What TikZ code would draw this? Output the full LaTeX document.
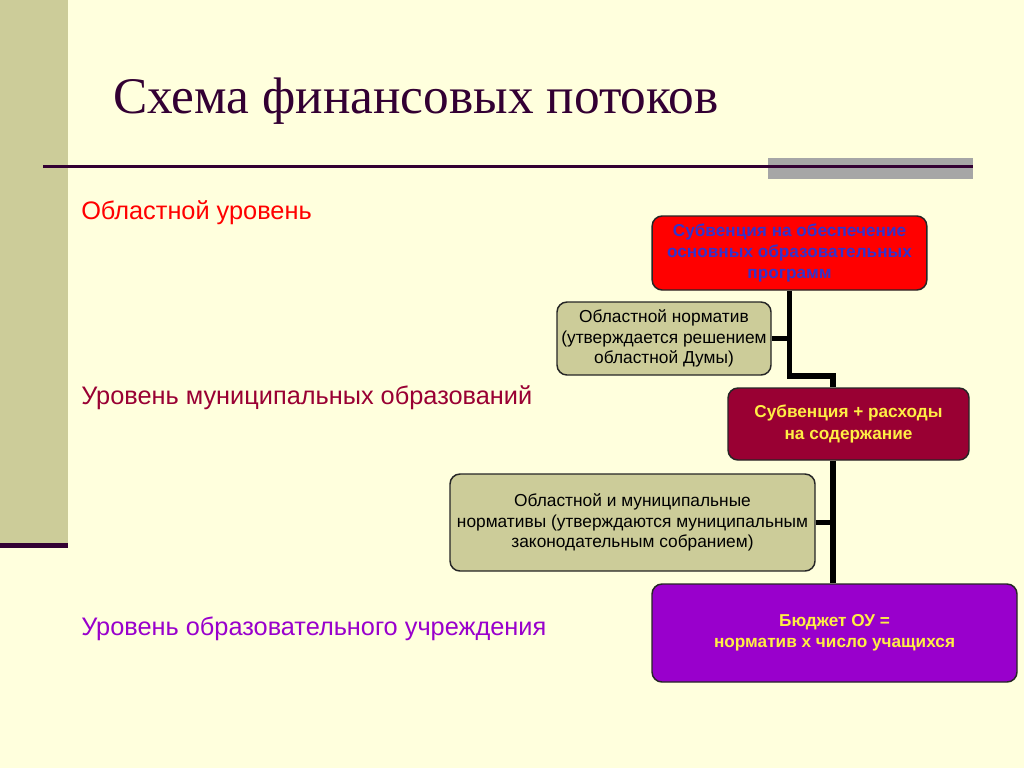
\documentclass[tikz,border=0pt]{standalone}
\usepackage{fontspec}
\setmainfont{Liberation Sans}
\newfontfamily\titlefont{Liberation Serif}
\usetikzlibrary{calc}

\definecolor{slidebg}{HTML}{FFFFDD}
\definecolor{olive}{HTML}{CCCC99}
\definecolor{plum}{HTML}{330033}
\definecolor{wine}{HTML}{990033}
\definecolor{violet}{HTML}{9900CC}
\definecolor{inkblue}{HTML}{3333CC}
\definecolor{gold}{HTML}{FFEE44}

\begin{document}
\begin{tikzpicture}[
		x=0.75pt, y=-0.75pt,
		box/.style={draw=black!85, line width=1.1pt, rounded corners=7.5pt, align=center,
			inner sep=2pt, font=\fontsize{13}{15.5}\selectfont,
			execute at begin node={\rule{0pt}{15pt}}},
		bold/.style={font=\bfseries\fontsize{12.9}{15.8}\selectfont},
		norm/.style={box, fill=olive, text=black},
		level/.style={anchor=base west, inner sep=0pt, font=\fontsize{19}{22}\selectfont},
		conn/.style={line width=3.9pt},
		]
		
		% background
		\fill[slidebg] (0,0) rectangle (1024,768);
		\useasboundingbox (0,0) rectangle (1024,768);
		\fill[olive] (0,0) rectangle (68,544);
		\fill[plum] (0,543) rectangle (68,548);
		\fill[black!35] (768,158) rectangle (973,179);
		\draw[plum, line width=2.25pt] (43,166) -- (973,166);
		
		\node[anchor=base west, inner sep=0pt, text=plum, font=\titlefont\fontsize{38.5}{42}\selectfont] (title) at (113,113) {Схема финансовых потоков};
		
		% levels
		\node[level, text=red] (lvl1) at (81,219) {Областной уровень};
		\node[level, text=wine] (lvl2) at (81,404) {Уровень муниципальных образований};
		\node[level, text=violet] (lvl3) at (81,635) {Уровень образовательного учреждения};
		
		% boxes
		\node[box, bold, fill=red, text=inkblue,
			minimum width=206pt, minimum height=55.5pt] (sub) at (789.5,253)
			{Субвенция на обеспечение\\основных образовательных\\программ};
		\node[norm, minimum width=160.5pt, minimum height=54.75pt] (norm1) at (664,338.5)
			{Областной норматив\\(утверждается решением\\областной Думы)};
		\node[box, bold, fill=wine, text=gold,
			minimum width=180.75pt, minimum height=54pt] (rash) at (848.5,424)
			{Субвенция + расходы\\на содержание};
		\node[norm, minimum width=273.75pt, minimum height=72.75pt] (norm2) at (632.5,522.5)
			{Областной и муниципальные\\нормативы (утверждаются муниципальным\\законодательным собранием)};
		\node[box, bold, fill=violet, text=gold,
			minimum width=273.75pt, minimum height=73.5pt] (budget) at (834.5,633)
			{Бюджет ОУ =\\норматив х число учащихся};
		
		% connectors
		\coordinate (bend) at (833,376);
		\draw[conn] (sub.south) |- (bend) -- (bend |- rash.north);
		\draw[conn] (norm1.east) -- (norm1.east -| sub.south);
		\draw[conn] (bend |- rash.south) -- (bend |- budget.north);
		\draw[conn] (norm2.east) -- (norm2.east -| bend);
		
	\end{tikzpicture}
\end{document}
